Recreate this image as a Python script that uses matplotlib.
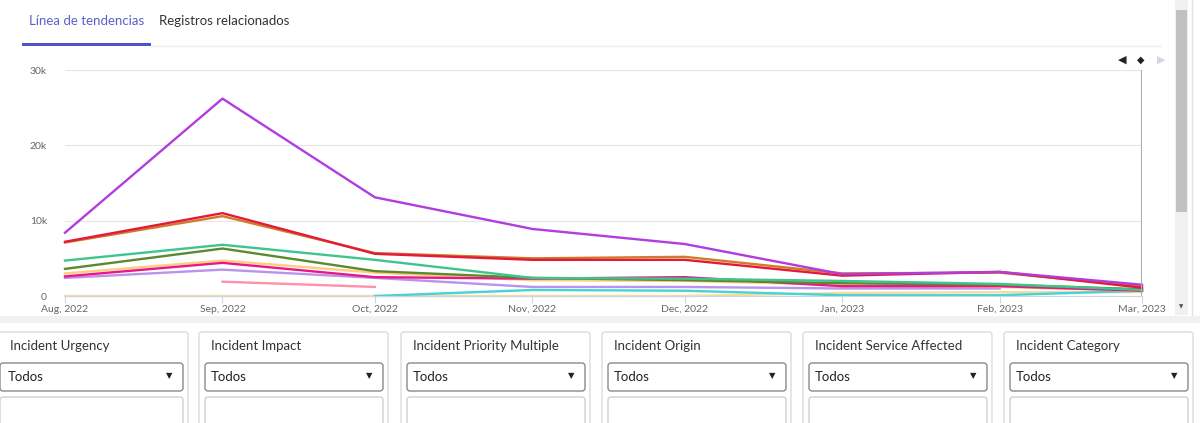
import numpy as np
import pandas as pd
from matplotlib import pyplot as plt
from matplotlib import dates as mdates
from matplotlib.patches import Rectangle, FancyBboxPatch

plt.rcParams['font.family'] = ['Lato', 'DejaVu Sans']

# Data
months = ['2022-08-01', '2022-09-01', '2022-10-01', '2022-11-01',
          '2022-12-01', '2023-01-01', '2023-02-01', '2023-03-01']
nan = np.nan
purple   = [8400, 26200, 13100, 8900, 6900, 2900, 3200, 1500]
red      = [7200, 11000, 5600, 4800, 4800, 2700, 3200, 1100]
orange   = [7100, 10600, 5700, 5000, 5200, 3000, 3100, 1300]
teal     = [4700, 6800, 4800, 2400, 2300, 2000, 1600, 800]
olive    = [3600, 6300, 3300, 2400, 2100, 1700, 1500, 900]
yellow   = [3000, 4700, 3100, 2100, 2000, 1500, 1200, 700]
magenta  = [2600, 4400, 2500, 2300, 2500, 1300, 1300, 700]
lavender = [2400, 3500, 2400, 1200, 1200, 1000, 1000, nan]
pink     = [nan, 1900, 1200, nan, nan, nan, nan, nan]
cyan     = [nan, nan, 0, 800, 700, 100, 100, 700]
beige    = [0, 0, 0, 0, 0, 400, 500, 500]

series = [
    (beige, '#f3dca0'), (cyan, '#45d3d3'), (pink, '#ff8fab'),
    (lavender, '#b993ec'), (yellow, '#ffcc80'), (magenta, '#e8178a'),
    (olive, '#5b8a2e'), (teal, '#3fc48f'), (orange, '#d07a2a'),
    (red, '#e31a3a'), (purple, '#b13de0'),
]

tabs = ['Línea de tendencias', 'Registros relacionados']
filters = ['Incident Urgency', 'Incident Impact', 'Incident Priority Multiple',
           'Incident Origin', 'Incident Service Affected', 'Incident Category']
y_ticks = [0, 10000, 20000, 30000]
y_labels = ['0', '10k', '20k', '30k']

W, H = 1200, 423
fig = plt.figure(figsize=(12, 4.23), dpi=100)

# UI layer in pixel coordinates
ui = fig.add_axes([0, 0, 1, 1])
ui.set_xlim(0, W)
ui.set_ylim(H, 0)
ui.axis('off')

# tabs
ui.text(29, 21, tabs[0], fontsize=9.5, color='#5b5fc7', va='center')
ui.text(159, 21, tabs[1], fontsize=9.5, color='#333333', va='center')
ui.plot([151, 1160], [46, 46], color='#ededed', lw=1)
ui.add_patch(Rectangle((22, 43.5), 129, 3, color='#4e54c8', lw=0))

# navigator arrows
ui.text(1122, 60, '◀', fontsize=8, color='#222222', ha='center', va='center', family='DejaVu Sans')
ui.text(1141, 60, '◆', fontsize=7, color='#222222', ha='center', va='center', family='DejaVu Sans')
ui.text(1161, 60, '▶', fontsize=8, color='#d4d8e4', ha='center', va='center', family='DejaVu Sans')

# scrollbar
ui.add_patch(Rectangle((1175, 0), 13, 315, color='#f1f1f1', lw=0))
ui.add_patch(Rectangle((1176, 10), 11, 202, color='#c1c1c1', lw=0))
ui.text(1181.5, 307, '▼', fontsize=4, color='#505050', ha='center', va='center', family='DejaVu Sans')
ui.plot([1192, 1192], [0, 315], color='#e2e2e2', lw=1)

# band between chart panel and filters
ui.add_patch(Rectangle((0, 316), W, 7, color='#f0f1f4', lw=0))

# filter cards
lefts = [-6, 199, 401, 602, 803, 1004]
for i, (left, title) in enumerate(zip(lefts, filters)):
    right = 188 if i == 0 else left + 189
    ui.add_patch(FancyBboxPatch((left, 332), right - left, 120,
                                boxstyle='round,pad=0,rounding_size=3',
                                fc='white', ec='#dcdcdc', lw=1))
    tx = 10 if i == 0 else left + 12
    ui.text(tx, 346, title, fontsize=9.5, color='#333333', va='center')
    ui.add_patch(FancyBboxPatch((left + 6, 363), right - left - 11, 28,
                                boxstyle='round,pad=0,rounding_size=3',
                                fc='white', ec='#8a8a8a', lw=1))
    ux = 8 if i == 0 else left + 12
    ui.text(ux, 377, 'Todos', fontsize=9.5, color='#222222', va='center')
    ui.text(right - 19, 376, '▼', fontsize=6, color='#222222', ha='center', va='center',
            family='DejaVu Sans')
    ui.add_patch(FancyBboxPatch((left + 6, 397), right - left - 11, 40,
                                boxstyle='round,pad=0,rounding_size=3',
                                fc='white', ec='#d0d0d0', lw=1))

# Chart
ax = fig.add_axes([65 / W, (H - 296) / H, (1142 - 65) / W, (296 - 70) / H])
ax.patch.set_alpha(0)
x = pd.to_datetime(months)
for vals, color in series:
    ax.plot(x, vals, color=color, lw=1.7, clip_on=False, solid_joinstyle='round')

ax.axvline(x[-1], color='#a8adc0', lw=1.5)

ax.set_xlim(x[0], x[-1])
ax.set_ylim(0, 30000)
ax.set_yticks(y_ticks)
ax.set_yticklabels(y_labels)
ax.set_xticks(x)
ax.xaxis.set_major_formatter(mdates.DateFormatter('%b, %Y'))
ax.grid(axis='y', color='#e6e6e6', lw=0.8)
ax.set_axisbelow(True)
for s in ['top', 'right', 'left']:
    ax.spines[s].set_visible(False)
ax.spines['bottom'].set_color('#ccd6eb')
ax.tick_params(axis='x', length=5, color='#ccd6eb', labelsize=7.5, labelcolor='#666666', pad=1.5)
ax.tick_params(axis='y', length=0, labelsize=7.5, labelcolor='#666666', pad=13)

plt.savefig('out.png', dpi=100)
